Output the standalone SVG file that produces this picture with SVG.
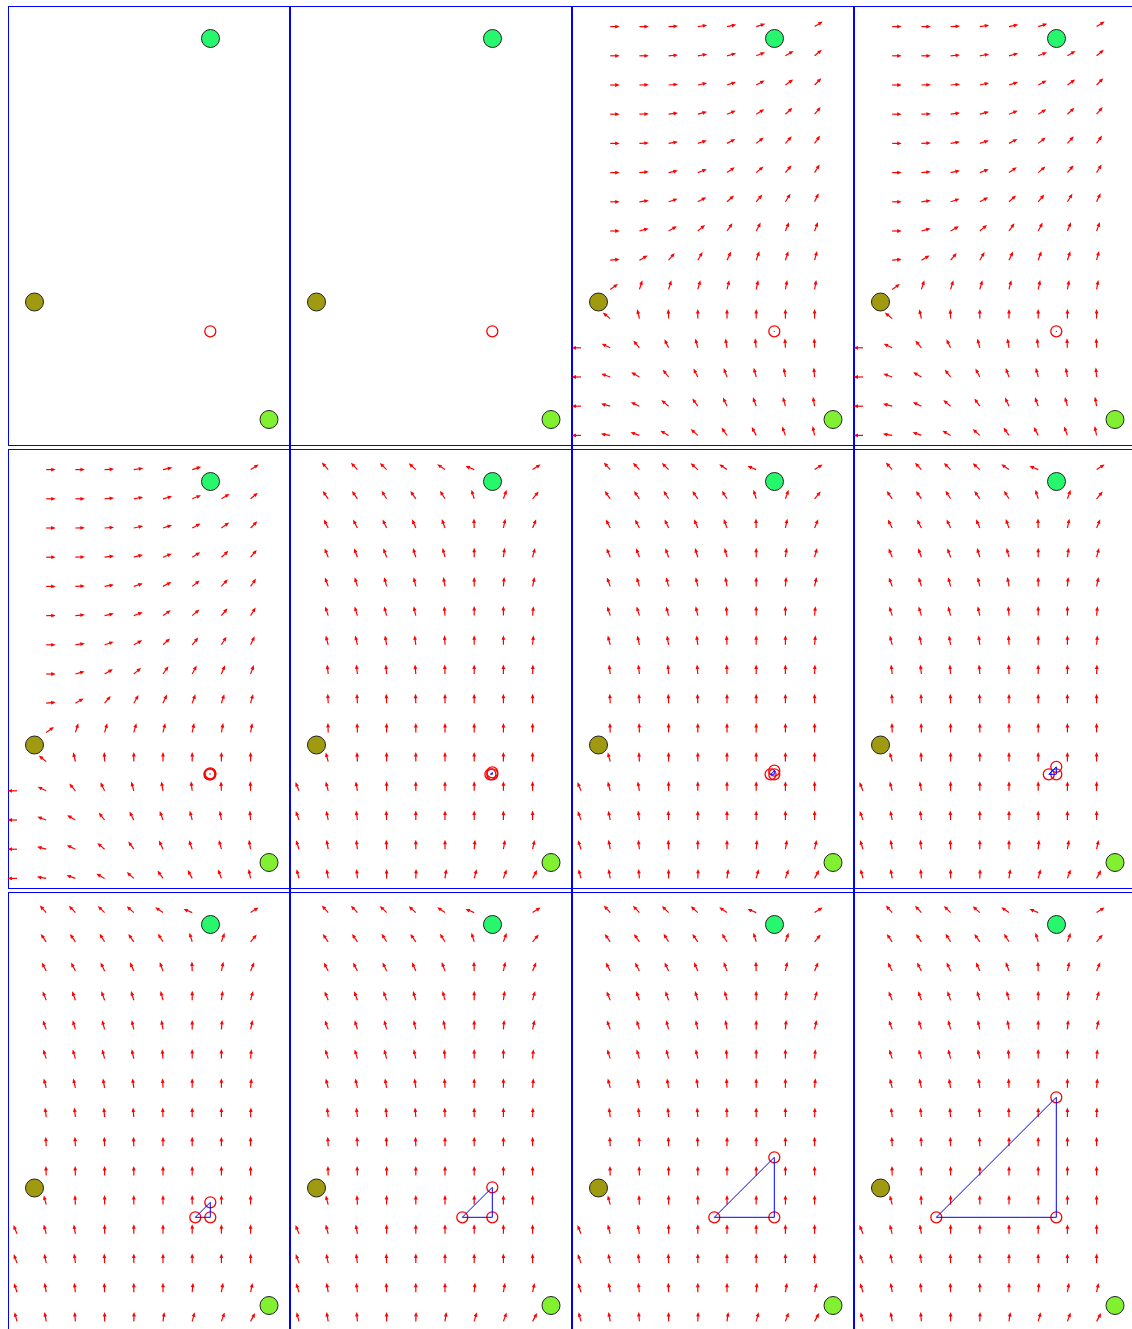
<svg xmlns="http://www.w3.org/2000/svg" xmlns:xlink="http://www.w3.org/1999/xlink" width="1132" height="1329" viewBox="0 0 1132 1329">
<style>
.fr{fill:none;stroke:#00f;stroke-width:1}
.gp{stroke:#00f;stroke-width:1}
.rc{fill:none;stroke:#f00;stroke-width:1.3}
.tri{fill:none;stroke:#00f;stroke-width:1}
.dot{fill:#00f}
.n{stroke:#222;stroke-width:1}
</style>
<defs>
<g id="a"><path d="M0,0H6" stroke="#f00" stroke-width="1.2"/><path d="M9.5,0L5,-1.9L5,1.9Z" fill="#f00"/></g>
<g id="nodes">
<circle class="n" cx="202.5" cy="32.5" r="9" fill="#26f76c"/>
<circle class="n" cx="26.5" cy="296" r="9" fill="#a09a10"/>
<circle class="n" cx="261" cy="413.5" r="9" fill="#80f030"/>
</g>
<g id="fA">
<g transform="translate(0,20.6)"><use href="#a" transform="translate(38.2)"/><use href="#a" transform="translate(67.4)"/><use href="#a" transform="translate(96.6)rotate(-3)"/><use href="#a" transform="translate(125.8)rotate(-8)"/><use href="#a" transform="translate(155)rotate(-12)"/><use href="#a" transform="translate(184.2)rotate(-17)"/><use href="#a" transform="translate(242.6)rotate(-32)"/></g>
<g transform="translate(0,49.8)"><use href="#a" transform="translate(38.2)"/><use href="#a" transform="translate(67.4)"/><use href="#a" transform="translate(96.6)rotate(-5)"/><use href="#a" transform="translate(125.8)rotate(-10)"/><use href="#a" transform="translate(155)rotate(-15)"/><use href="#a" transform="translate(184.2)rotate(-22)"/><use href="#a" transform="translate(213.4)rotate(-31)"/><use href="#a" transform="translate(242.6)rotate(-40)"/></g>
<g transform="translate(0,79)"><use href="#a" transform="translate(38.2)"/><use href="#a" transform="translate(67.4)rotate(-2)"/><use href="#a" transform="translate(96.6)rotate(-5)"/><use href="#a" transform="translate(125.8)rotate(-12)"/><use href="#a" transform="translate(155)rotate(-18)"/><use href="#a" transform="translate(184.2)rotate(-28)"/><use href="#a" transform="translate(213.4)rotate(-35)"/><use href="#a" transform="translate(242.6)rotate(-45)"/></g>
<g transform="translate(0,108.2)"><use href="#a" transform="translate(38.2)"/><use href="#a" transform="translate(67.4)rotate(-2)"/><use href="#a" transform="translate(96.6)rotate(-8)"/><use href="#a" transform="translate(125.8)rotate(-15)"/><use href="#a" transform="translate(155)rotate(-22)"/><use href="#a" transform="translate(184.2)rotate(-32)"/><use href="#a" transform="translate(213.4)rotate(-42)"/><use href="#a" transform="translate(242.6)rotate(-50)"/></g>
<g transform="translate(0,137.4)"><use href="#a" transform="translate(38.2)"/><use href="#a" transform="translate(67.4)rotate(-3)"/><use href="#a" transform="translate(96.6)rotate(-10)"/><use href="#a" transform="translate(125.8)rotate(-18)"/><use href="#a" transform="translate(155)rotate(-28)"/><use href="#a" transform="translate(184.2)rotate(-38)"/><use href="#a" transform="translate(213.4)rotate(-48)"/><use href="#a" transform="translate(242.6)rotate(-55)"/></g>
<g transform="translate(0,166.6)"><use href="#a" transform="translate(38.2)"/><use href="#a" transform="translate(67.4)rotate(-5)"/><use href="#a" transform="translate(96.6)rotate(-12)"/><use href="#a" transform="translate(125.8)rotate(-20)"/><use href="#a" transform="translate(155)rotate(-35)"/><use href="#a" transform="translate(184.2)rotate(-40)"/><use href="#a" transform="translate(213.4)rotate(-50)"/><use href="#a" transform="translate(242.6)rotate(-58)"/></g>
<g transform="translate(0,195.8)"><use href="#a" transform="translate(38.2)"/><use href="#a" transform="translate(67.4)rotate(-8)"/><use href="#a" transform="translate(96.6)rotate(-18)"/><use href="#a" transform="translate(125.8)rotate(-28)"/><use href="#a" transform="translate(155)rotate(-42)"/><use href="#a" transform="translate(184.2)rotate(-50)"/><use href="#a" transform="translate(213.4)rotate(-58)"/><use href="#a" transform="translate(242.6)rotate(-65)"/></g>
<g transform="translate(0,225)"><use href="#a" transform="translate(38.2)"/><use href="#a" transform="translate(67.4)rotate(-15)"/><use href="#a" transform="translate(96.6)rotate(-30)"/><use href="#a" transform="translate(125.8)rotate(-40)"/><use href="#a" transform="translate(155)rotate(-55)"/><use href="#a" transform="translate(184.2)rotate(-62)"/><use href="#a" transform="translate(213.4)rotate(-68)"/><use href="#a" transform="translate(242.6)rotate(-70)"/></g>
<g transform="translate(0,254.2)"><use href="#a" transform="translate(38.2)rotate(-5)"/><use href="#a" transform="translate(67.4)rotate(-30)"/><use href="#a" transform="translate(96.6)rotate(-50)"/><use href="#a" transform="translate(125.8)rotate(-60)"/><use href="#a" transform="translate(155)rotate(-65)"/><use href="#a" transform="translate(184.2)rotate(-70)"/><use href="#a" transform="translate(213.4)rotate(-72)"/><use href="#a" transform="translate(242.6)rotate(-75)"/></g>
<g transform="translate(0,283.4)"><use href="#a" transform="translate(38.2)rotate(-35)"/><use href="#a" transform="translate(67.4)rotate(-72)"/><use href="#a" transform="translate(96.6)rotate(-73)"/><use href="#a" transform="translate(125.8)rotate(-74)"/><use href="#a" transform="translate(155)rotate(-76)"/><use href="#a" transform="translate(184.2)rotate(-78)"/><use href="#a" transform="translate(213.4)rotate(-79)"/><use href="#a" transform="translate(242.6)rotate(-80)"/></g>
<g transform="translate(0,312.6)"><use href="#a" transform="translate(38.2)rotate(-141)"/><use href="#a" transform="translate(67.4)rotate(-103)"/><use href="#a" transform="translate(96.6)rotate(-92)"/><use href="#a" transform="translate(125.8)rotate(-90)"/><use href="#a" transform="translate(155)rotate(-90)"/><use href="#a" transform="translate(184.2)rotate(-90)"/><use href="#a" transform="translate(213.4)rotate(-90)"/><use href="#a" transform="translate(242.6)rotate(-90)"/></g>
<g transform="translate(0,341.8)"><use href="#a" transform="translate(9)rotate(180)"/><use href="#a" transform="translate(38.2)rotate(-154)"/><use href="#a" transform="translate(67.4)rotate(-130)"/><use href="#a" transform="translate(96.6)rotate(-116)"/><use href="#a" transform="translate(125.8)rotate(-105)"/><use href="#a" transform="translate(155)rotate(-100)"/><use href="#a" transform="translate(184.2)rotate(-97)"/><use href="#a" transform="translate(213.4)rotate(-93)"/><use href="#a" transform="translate(242.6)rotate(-92)"/></g>
<g transform="translate(0,371)"><use href="#a" transform="translate(9)rotate(180)"/><use href="#a" transform="translate(38.2)rotate(-160)"/><use href="#a" transform="translate(67.4)rotate(-150)"/><use href="#a" transform="translate(96.6)rotate(-128)"/><use href="#a" transform="translate(125.8)rotate(-117)"/><use href="#a" transform="translate(155)rotate(-110)"/><use href="#a" transform="translate(184.2)rotate(-105)"/><use href="#a" transform="translate(213.4)rotate(-100)"/><use href="#a" transform="translate(242.6)rotate(-95)"/></g>
<g transform="translate(0,400.2)"><use href="#a" transform="translate(9)rotate(180)"/><use href="#a" transform="translate(38.2)rotate(-165)"/><use href="#a" transform="translate(67.4)rotate(-155)"/><use href="#a" transform="translate(96.6)rotate(-140)"/><use href="#a" transform="translate(125.8)rotate(-125)"/><use href="#a" transform="translate(155)rotate(-115)"/><use href="#a" transform="translate(184.2)rotate(-110)"/><use href="#a" transform="translate(213.4)rotate(-105)"/><use href="#a" transform="translate(242.6)rotate(-100)"/></g>
<g transform="translate(0,429.4)"><use href="#a" transform="translate(9)rotate(180)"/><use href="#a" transform="translate(38.2)rotate(-170)"/><use href="#a" transform="translate(67.4)rotate(-160)"/><use href="#a" transform="translate(96.6)rotate(-150)"/><use href="#a" transform="translate(125.8)rotate(-138)"/><use href="#a" transform="translate(155)rotate(-125)"/><use href="#a" transform="translate(184.2)rotate(-118)"/><use href="#a" transform="translate(213.4)rotate(-110)"/><use href="#a" transform="translate(242.6)rotate(-102)"/></g>
</g>
<g id="fB">
<g transform="translate(0,20.6)"><use href="#a" transform="translate(38.2)rotate(-132)"/><use href="#a" transform="translate(67.4)rotate(-133)"/><use href="#a" transform="translate(96.6)rotate(-135)"/><use href="#a" transform="translate(125.8)rotate(-138)"/><use href="#a" transform="translate(155)rotate(-145)"/><use href="#a" transform="translate(184.2)rotate(-157)"/><use href="#a" transform="translate(242.6)rotate(-33)"/></g>
<g transform="translate(0,49.8)"><use href="#a" transform="translate(38.2)rotate(-125)"/><use href="#a" transform="translate(67.4)rotate(-125)"/><use href="#a" transform="translate(96.6)rotate(-122)"/><use href="#a" transform="translate(125.8)rotate(-125)"/><use href="#a" transform="translate(155)rotate(-122)"/><use href="#a" transform="translate(184.2)rotate(-107)"/><use href="#a" transform="translate(213.4)rotate(-70)"/><use href="#a" transform="translate(242.6)rotate(-50)"/></g>
<g transform="translate(0,79)"><use href="#a" transform="translate(38.2)rotate(-117)"/><use href="#a" transform="translate(67.4)rotate(-117)"/><use href="#a" transform="translate(96.6)rotate(-115)"/><use href="#a" transform="translate(125.8)rotate(-113)"/><use href="#a" transform="translate(155)rotate(-110)"/><use href="#a" transform="translate(184.2)rotate(-92)"/><use href="#a" transform="translate(213.4)rotate(-78)"/><use href="#a" transform="translate(242.6)rotate(-68)"/></g>
<g transform="translate(0,108.2)"><use href="#a" transform="translate(38.2)rotate(-112)"/><use href="#a" transform="translate(67.4)rotate(-110)"/><use href="#a" transform="translate(96.6)rotate(-110)"/><use href="#a" transform="translate(125.8)rotate(-107)"/><use href="#a" transform="translate(155)rotate(-105)"/><use href="#a" transform="translate(184.2)rotate(-90)"/><use href="#a" transform="translate(213.4)rotate(-82)"/><use href="#a" transform="translate(242.6)rotate(-75)"/></g>
<g transform="translate(0,137.4)"><use href="#a" transform="translate(38.2)rotate(-110)"/><use href="#a" transform="translate(67.4)rotate(-107)"/><use href="#a" transform="translate(96.6)rotate(-105)"/><use href="#a" transform="translate(125.8)rotate(-103)"/><use href="#a" transform="translate(155)rotate(-100)"/><use href="#a" transform="translate(184.2)rotate(-90)"/><use href="#a" transform="translate(213.4)rotate(-85)"/><use href="#a" transform="translate(242.6)rotate(-78)"/></g>
<g transform="translate(0,166.6)"><use href="#a" transform="translate(38.2)rotate(-108)"/><use href="#a" transform="translate(67.4)rotate(-107)"/><use href="#a" transform="translate(96.6)rotate(-105)"/><use href="#a" transform="translate(125.8)rotate(-103)"/><use href="#a" transform="translate(155)rotate(-95)"/><use href="#a" transform="translate(184.2)rotate(-90)"/><use href="#a" transform="translate(213.4)rotate(-90)"/><use href="#a" transform="translate(242.6)rotate(-85)"/></g>
<g transform="translate(0,195.8)"><use href="#a" transform="translate(38.2)rotate(-105)"/><use href="#a" transform="translate(67.4)rotate(-103)"/><use href="#a" transform="translate(96.6)rotate(-100)"/><use href="#a" transform="translate(125.8)rotate(-98)"/><use href="#a" transform="translate(155)rotate(-93)"/><use href="#a" transform="translate(184.2)rotate(-90)"/><use href="#a" transform="translate(213.4)rotate(-90)"/><use href="#a" transform="translate(242.6)rotate(-85)"/></g>
<g transform="translate(0,225)"><use href="#a" transform="translate(38.2)rotate(-97)"/><use href="#a" transform="translate(67.4)rotate(-97)"/><use href="#a" transform="translate(96.6)rotate(-95)"/><use href="#a" transform="translate(125.8)rotate(-95)"/><use href="#a" transform="translate(155)rotate(-92)"/><use href="#a" transform="translate(184.2)rotate(-90)"/><use href="#a" transform="translate(213.4)rotate(-90)"/><use href="#a" transform="translate(242.6)rotate(-88)"/></g>
<g transform="translate(0,254.2)"><use href="#a" transform="translate(38.2)rotate(-93)"/><use href="#a" transform="translate(67.4)rotate(-93)"/><use href="#a" transform="translate(96.6)rotate(-92)"/><use href="#a" transform="translate(125.8)rotate(-92)"/><use href="#a" transform="translate(155)rotate(-90)"/><use href="#a" transform="translate(184.2)rotate(-90)"/><use href="#a" transform="translate(213.4)rotate(-90)"/><use href="#a" transform="translate(242.6)rotate(-90)"/></g>
<g transform="translate(0,283.4)"><use href="#a" transform="translate(38.2)rotate(-92)"/><use href="#a" transform="translate(67.4)rotate(-92)"/><use href="#a" transform="translate(96.6)rotate(-90)"/><use href="#a" transform="translate(125.8)rotate(-90)"/><use href="#a" transform="translate(155)rotate(-90)"/><use href="#a" transform="translate(184.2)rotate(-90)"/><use href="#a" transform="translate(213.4)rotate(-90)"/><use href="#a" transform="translate(242.6)rotate(-90)"/></g>
<g transform="translate(0,312.6)"><use href="#a" transform="translate(38.2)rotate(-105)"/><use href="#a" transform="translate(67.4)rotate(-93)"/><use href="#a" transform="translate(96.6)rotate(-90)"/><use href="#a" transform="translate(125.8)rotate(-90)"/><use href="#a" transform="translate(155)rotate(-90)"/><use href="#a" transform="translate(184.2)rotate(-90)"/><use href="#a" transform="translate(213.4)rotate(-90)"/><use href="#a" transform="translate(242.6)rotate(-90)"/></g>
<g transform="translate(0,341.8)"><use href="#a" transform="translate(9)rotate(-112)"/><use href="#a" transform="translate(38.2)rotate(-105)"/><use href="#a" transform="translate(67.4)rotate(-100)"/><use href="#a" transform="translate(96.6)rotate(-90)"/><use href="#a" transform="translate(125.8)rotate(-90)"/><use href="#a" transform="translate(155)rotate(-90)"/><use href="#a" transform="translate(184.2)rotate(-90)"/><use href="#a" transform="translate(213.4)rotate(-90)"/><use href="#a" transform="translate(242.6)rotate(-90)"/></g>
<g transform="translate(0,371)"><use href="#a" transform="translate(9)rotate(-110)"/><use href="#a" transform="translate(38.2)rotate(-102)"/><use href="#a" transform="translate(67.4)rotate(-98)"/><use href="#a" transform="translate(96.6)rotate(-92)"/><use href="#a" transform="translate(125.8)rotate(-90)"/><use href="#a" transform="translate(155)rotate(-90)"/><use href="#a" transform="translate(184.2)rotate(-90)"/><use href="#a" transform="translate(213.4)rotate(-90)"/><use href="#a" transform="translate(242.6)rotate(-90)"/></g>
<g transform="translate(0,400.2)"><use href="#a" transform="translate(9)rotate(-108)"/><use href="#a" transform="translate(38.2)rotate(-100)"/><use href="#a" transform="translate(67.4)rotate(-97)"/><use href="#a" transform="translate(96.6)rotate(-92)"/><use href="#a" transform="translate(125.8)rotate(-90)"/><use href="#a" transform="translate(155)rotate(-90)"/><use href="#a" transform="translate(184.2)rotate(-85)"/><use href="#a" transform="translate(213.4)rotate(-80)"/><use href="#a" transform="translate(242.6)rotate(-78)"/></g>
<g transform="translate(0,429.4)"><use href="#a" transform="translate(9)rotate(-105)"/><use href="#a" transform="translate(38.2)rotate(-100)"/><use href="#a" transform="translate(67.4)rotate(-95)"/><use href="#a" transform="translate(96.6)rotate(-90)"/><use href="#a" transform="translate(125.8)rotate(-88)"/><use href="#a" transform="translate(155)rotate(-82)"/><use href="#a" transform="translate(184.2)rotate(-75)"/><use href="#a" transform="translate(213.4)rotate(-70)"/><use href="#a" transform="translate(242.6)rotate(-62)"/></g>
</g>
</defs>
<rect width="1132" height="1329" fill="#fff"/>
<g id="gaps">
<path class="gp" d="M289.5,446V449M290.5,446V449M571.5,446V449M572.5,446V449M853.5,446V449M854.5,446V449M289.5,889V892M290.5,889V892M571.5,889V892M572.5,889V892M853.5,889V892M854.5,889V892"/>
</g>
<g id="p1" transform="translate(8,6)"><rect class="fr" x="0.5" y="0.5" width="281" height="439"/><use href="#nodes"/><circle class="rc" cx="202.3" cy="325.3" r="5.5"/></g>
<g id="p2" transform="translate(290,6)"><rect class="fr" x="0.5" y="0.5" width="281" height="439"/><use href="#nodes"/><circle class="rc" cx="202.3" cy="325.3" r="5.5"/></g>
<g id="p3" transform="translate(572,6)"><rect class="fr" x="0.5" y="0.5" width="281" height="439"/><use href="#fA"/><use href="#nodes"/><circle class="rc" cx="202.3" cy="325.3" r="5.5"/><circle class="dot" cx="202.3" cy="325.3" r="0.6"/></g>
<g id="p4" transform="translate(854,6)"><rect class="fr" x="0.5" y="0.5" width="281" height="439"/><use href="#fA"/><use href="#nodes"/><circle class="rc" cx="202.3" cy="325.3" r="5.5"/><circle class="dot" cx="202.3" cy="325.3" r="0.6"/></g>
<g id="p5" transform="translate(8,449)"><rect class="fr" x="0.5" y="0.5" width="281" height="439"/><use href="#fA"/><use href="#nodes"/><circle class="rc" cx="202.3" cy="325.3" r="5.5"/><circle class="rc" cx="201.36" cy="325.3" r="5.5"/><circle class="rc" cx="202.3" cy="324.36" r="5.5"/><circle class="dot" cx="202" cy="325" r="0.7"/></g>
<g id="p6" transform="translate(290,449)"><rect class="fr" x="0.5" y="0.5" width="281" height="439"/><use href="#fB"/><use href="#nodes"/><circle class="rc" cx="202.3" cy="325.3" r="5.5"/><circle class="rc" cx="200.42" cy="325.3" r="5.5"/><circle class="rc" cx="202.3" cy="323.42" r="5.5"/></g>
<g id="p7" transform="translate(572,449)"><rect class="fr" x="0.5" y="0.5" width="281" height="439"/><use href="#fB"/><use href="#nodes"/><circle class="rc" cx="202.3" cy="325.3" r="5.5"/><circle class="rc" cx="198.55" cy="325.3" r="5.5"/><circle class="rc" cx="202.3" cy="321.55" r="5.5"/></g>
<g id="p8" transform="translate(854,449)"><rect class="fr" x="0.5" y="0.5" width="281" height="439"/><use href="#fB"/><use href="#nodes"/><circle class="rc" cx="202.3" cy="325.3" r="5.5"/><circle class="rc" cx="194.8" cy="325.3" r="5.5"/><circle class="rc" cx="202.3" cy="317.8" r="5.5"/></g>
<g id="p9" transform="translate(8,892)"><rect class="fr" x="0.5" y="0.5" width="281" height="439"/><use href="#fB"/><use href="#nodes"/><circle class="rc" cx="202.3" cy="325.3" r="5.5"/><circle class="rc" cx="187.3" cy="325.3" r="5.5"/><circle class="rc" cx="202.3" cy="310.3" r="5.5"/></g>
<g id="p10" transform="translate(290,892)"><rect class="fr" x="0.5" y="0.5" width="281" height="439"/><use href="#fB"/><use href="#nodes"/><circle class="rc" cx="202.3" cy="325.3" r="5.5"/><circle class="rc" cx="172.3" cy="325.3" r="5.5"/><circle class="rc" cx="202.3" cy="295.3" r="5.5"/></g>
<g id="p11" transform="translate(572,892)"><rect class="fr" x="0.5" y="0.5" width="281" height="439"/><use href="#fB"/><use href="#nodes"/><circle class="rc" cx="202.3" cy="325.3" r="5.5"/><circle class="rc" cx="142.3" cy="325.3" r="5.5"/><circle class="rc" cx="202.3" cy="265.3" r="5.5"/></g>
<g id="p12" transform="translate(854,892)"><rect class="fr" x="0.5" y="0.5" width="281" height="439"/><use href="#fB"/><use href="#nodes"/><circle class="rc" cx="202.3" cy="325.3" r="5.5"/><circle class="rc" cx="82.3" cy="325.3" r="5.5"/><circle class="rc" cx="202.3" cy="205.3" r="5.5"/></g>
<g id="connectors">
<path class="tri" d="M490.42,774.3L492.3,772.42L492.3,774.3Z"/>
<path class="tri" d="M770.55,774.3L774.3,770.55L774.3,774.3Z"/>
<path class="tri" d="M1048.8,774.3L1056.3,766.8L1056.3,774.3Z"/>
<path class="tri" d="M195.3,1217.3L210.3,1202.3L210.3,1217.3Z"/>
<path class="tri" d="M462.3,1217.3L492.3,1187.3L492.3,1217.3Z"/>
<path class="tri" d="M714.3,1217.3L774.3,1157.3L774.3,1217.3Z"/>
<path class="tri" d="M936.3,1217.3L1056.3,1097.3L1056.3,1217.3Z"/>
</g>
</svg>
